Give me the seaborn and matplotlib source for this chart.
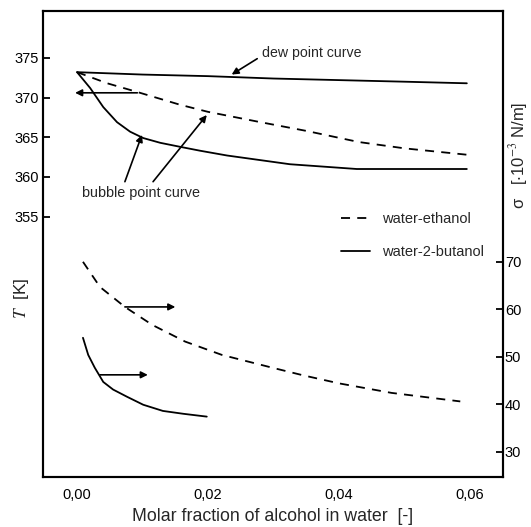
import matplotlib
matplotlib.use('Agg')
import matplotlib.pyplot as plt
import seaborn as sns
from matplotlib.lines import Line2D

# données
x_dew = [0.0, 0.01, 0.02, 0.03, 0.04, 0.05, 0.0595]
T_dew = [373.2, 372.9, 372.7, 372.4, 372.2, 372.0, 371.8]

x_eth_T = [0.0, 0.0046, 0.0092, 0.0157, 0.02, 0.028, 0.035, 0.043, 0.05, 0.0595]
T_eth = [373.2, 371.8, 370.7, 369.1, 368.2, 366.9, 365.8, 364.4, 363.6, 362.8]

x_but_T = [0.0, 0.002, 0.004, 0.0061, 0.0081, 0.0101, 0.0127, 0.0157, 0.0188,
           0.0229, 0.0325, 0.0427, 0.0595]
T_but = [373.2, 371.2, 368.8, 366.9, 365.7, 364.9, 364.3, 363.8, 363.3,
         362.7, 361.6, 361.0, 361.0]

x_eth_s = [0.0009, 0.0035, 0.0073, 0.0115, 0.0165, 0.0221, 0.0298, 0.0345,
           0.040, 0.048, 0.0585]
s_eth = [70.0, 64.7, 60.5, 56.7, 53.2, 50.4, 47.7, 46.1, 44.4, 42.4, 40.6]

x_but_s = [0.0009, 0.0017, 0.0027, 0.004, 0.0055, 0.0076, 0.0101, 0.0131,
           0.0162, 0.0198]
s_but = [54.0, 50.4, 47.7, 44.7, 43.1, 41.6, 39.9, 38.6, 38.0, 37.4]

x_ticks = [0.0, 0.02, 0.04, 0.06]
x_labels = ['0,00', '0,02', '0,04', '0,06']
T_ticks = [355, 360, 365, 370, 375]
s_ticks = [30, 40, 50, 60, 70]

sns.set_style('white')
plt.rcParams['font.family'] = ['Liberation Sans', 'DejaVu Sans']
plt.rcParams['mathtext.fontset'] = 'stix'

fig = plt.figure(figsize=(5.31, 5.27), dpi=100)
ax = fig.add_axes([0.081, 0.095, 0.866, 0.884])
ax2 = ax.twinx()

dash = (0, (5, 4))
lw = 1.3
sns.lineplot(x=x_dew, y=T_dew, ax=ax, color='black', lw=lw)
sns.lineplot(x=x_eth_T, y=T_eth, ax=ax, color='black', lw=lw, linestyle=dash)
sns.lineplot(x=x_but_T, y=T_but, ax=ax, color='black', lw=lw)
sns.lineplot(x=x_eth_s, y=s_eth, ax=ax2, color='black', lw=lw, linestyle=dash)
sns.lineplot(x=x_but_s, y=s_but, ax=ax2, color='black', lw=lw)

ax.set_xlim(-0.0052, 0.065)
ax.set_ylim(322.2, 380.9)
ax2.set_ylim(24.7, 122.8)

ax.set_xticks(x_ticks)
ax.set_xticklabels(x_labels)
ax.set_yticks(T_ticks)
ax2.set_yticks(s_ticks)

for a in (ax, ax2):
    for s in a.spines.values():
        s.set_color('black')
        s.set_linewidth(1.5)
    a.tick_params(direction='in', length=5, width=1.3, labelsize=10.5, colors='black', pad=3)
ax.tick_params(axis='x', pad=8)
ax2.tick_params(axis='y', pad=1.5)

ax.set_xlabel('Molar fraction of alcohol in water  [-]', fontsize=12.8, labelpad=4)
ax.set_ylabel('$T$  [K]', fontsize=12.5, va='center')
ax.yaxis.set_label_coords(-0.046, 0.384)
ax2.set_ylabel(r'σ   [$\cdot$10$^{-3}$ N/m]', fontsize=12, va='center')
ax2.yaxis.set_label_coords(1.033, 0.69)

ap = dict(arrowstyle='-|>', color='black', lw=1.2, mutation_scale=10, shrinkA=0, shrinkB=0)

# flèches
ax.annotate('', xy=(0.0236, 372.9), xytext=(0.0275, 374.9), arrowprops=ap)
ax.annotate('', xy=(-0.0003, 370.6), xytext=(0.0092, 370.6), arrowprops=ap)
ax.annotate('', xy=(0.0099, 365.3), xytext=(0.0073, 359.4), arrowprops=ap)
ax.annotate('', xy=(0.0198, 367.8), xytext=(0.0116, 359.4), arrowprops=ap)
ax2.annotate('', xy=(0.015, 60.5), xytext=(0.0073, 60.5), arrowprops=ap)
ax2.annotate('', xy=(0.0108, 46.2), xytext=(0.0035, 46.2), arrowprops=ap)

ax.text(0.0283, 375.6, 'dew point curve', fontsize=10.2, va='center', ha='left')
ax.text(0.0008, 358.0, 'bubble point curve', fontsize=10.4, va='center', ha='left')

handles = [Line2D([], [], color='black', lw=lw, linestyle=dash),
           Line2D([], [], color='black', lw=lw)]
ax.legend(handles, ['water-ethanol', 'water-2-butanol'], loc='upper left',
          bbox_to_anchor=(0.62, 0.596), frameon=False, fontsize=10.5,
          handlelength=2.0, labelspacing=1.25, handletextpad=0.8)

fig.savefig('out.png', dpi=100)
